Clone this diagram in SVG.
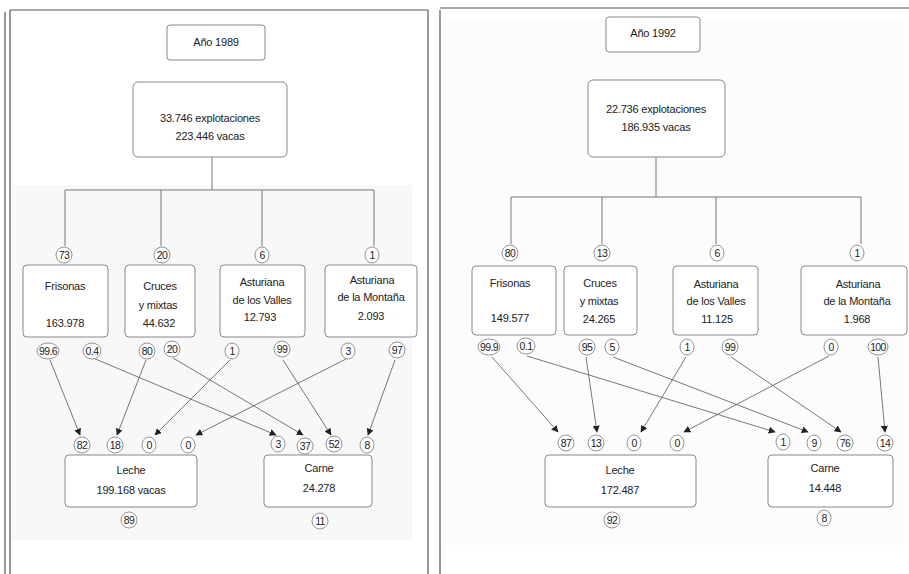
<svg xmlns="http://www.w3.org/2000/svg" width="909" height="574" viewBox="0 0 909 574">
<style>
text{font-family:"Liberation Sans",Arial,sans-serif;font-size:11px;fill:#222;text-anchor:middle;letter-spacing:-0.2px}
.c+text{font-size:10.5px;letter-spacing:-0.6px}
.box{fill:#fff;stroke:#888;stroke-width:1}
.ln{stroke:#777;stroke-width:1;fill:none}
.c{fill:#fff;stroke:#888;stroke-width:0.9}
.frame{stroke:#555;stroke-width:1.2;fill:none}
.arr{stroke:#555;stroke-width:0.8;fill:none;marker-end:url(#ah)}
</style>
<defs>
<marker id="ah" viewBox="0 0 10 10" refX="9" refY="5" markerWidth="7" markerHeight="7" orient="auto" markerUnits="userSpaceOnUse">
<path d="M0,0 L10,5 L0,10 z" fill="#222"/>
</marker>
</defs>
<rect width="909" height="574" fill="#fff"/>
<rect x="12" y="185" width="400" height="355" fill="#f8f8f8"/>
<rect x="445" y="20" width="460" height="525" fill="#fcfcfc"/>
<g id="frames">
<path class="frame" d="M5,12 V574 M10,10 V574 M10,10 H428 M428,10 V574"/>
<path class="frame" d="M440,10 V574 M440,8 H909"/>
</g>
<g id="connectors">
<path class="ln" d="M212,157 V190 M65,190 H374 M65,190 V246 M161,190 V246 M262,190 V246 M374,190 V246"/>
<path class="ln" d="M656,157 V197 M511,197 H861 M511,197 V244 M602,197 V244 M716,197 V244 M861,197 V244"/>
<path class="arr" d="M50,360 L80,435"/>
<path class="arr" d="M93,358 L276,435"/>
<path class="arr" d="M146,360 L117,435"/>
<path class="arr" d="M173,358 L303,435"/>
<path class="arr" d="M230,360 L155,435"/>
<path class="arr" d="M283,360 L331,435"/>
<path class="arr" d="M346,359 L196,435"/>
<path class="arr" d="M395,360 L368,435"/>
<path class="arr" d="M492,357 L558,432"/>
<path class="arr" d="M527,356 L775,432"/>
<path class="arr" d="M586,357 L597,432"/>
<path class="arr" d="M613,357 L808,432"/>
<path class="arr" d="M686,357 L641,432"/>
<path class="arr" d="M731,357 L841,432"/>
<path class="arr" d="M829,356 L684,432"/>
<path class="arr" d="M878,357 L885,432"/>
</g>
<g id="year1989"><rect class="box" x="167" y="25" width="98" height="35" rx="3"/><text x="216" y="46">Año 1989</text></g>
<g id="total1989"><rect class="box" x="133" y="82" width="154" height="75" rx="5"/><text x="210" y="122">33.746 explotaciones</text><text x="210" y="140">223.446 vacas</text></g>
<g id="fris89"><rect class="box" x="23" y="265" width="85" height="72" rx="4"/><text x="65" y="290">Frisonas</text><text x="65" y="327">163.978</text></g>
<g id="cruc89"><rect class="box" x="125" y="265" width="70" height="72" rx="4"/><text x="160" y="290">Cruces</text><text x="158" y="309">y mixtas</text><text x="159" y="327">44.632</text></g>
<g id="vall89"><rect class="box" x="220" y="265" width="85" height="72" rx="4"/><text x="262" y="286">Asturiana</text><text x="262" y="304">de los Valles</text><text x="260" y="321">12.793</text></g>
<g id="mont89"><rect class="box" x="325" y="265" width="92" height="72" rx="4"/><text x="372" y="284">Asturiana</text><text x="371" y="301">de la Montaña</text><text x="371" y="320">2.093</text></g>
<g id="leche89"><rect class="box" x="65" y="455" width="132" height="52" rx="4"/><text x="131" y="474">Leche</text><text x="131" y="494">199.168 vacas</text></g>
<g id="carne89"><rect class="box" x="264" y="455" width="108" height="52" rx="4"/><text x="319" y="472">Carne</text><text x="319" y="492">24.278</text></g>
<g id="circles89">
<ellipse class="c" cx="64" cy="255" rx="8" ry="8"/><text x="64" y="259">73</text>
<ellipse class="c" cx="162" cy="255" rx="8" ry="8"/><text x="162" y="259">20</text>
<ellipse class="c" cx="262" cy="255" rx="7" ry="8"/><text x="262" y="259">6</text>
<ellipse class="c" cx="372" cy="255" rx="7" ry="8"/><text x="372" y="259">1</text>
<ellipse class="c" cx="48" cy="351" rx="11" ry="8"/><text x="48" y="355">99.6</text>
<ellipse class="c" cx="92" cy="351" rx="9" ry="8"/><text x="92" y="355">0.4</text>
<ellipse class="c" cx="147" cy="351" rx="8" ry="8"/><text x="147" y="355">80</text>
<ellipse class="c" cx="172" cy="349" rx="8" ry="8"/><text x="172" y="353">20</text>
<ellipse class="c" cx="232" cy="351" rx="7" ry="8"/><text x="232" y="355">1</text>
<ellipse class="c" cx="282" cy="349" rx="8" ry="8"/><text x="282" y="353">99</text>
<ellipse class="c" cx="348" cy="351" rx="7" ry="8"/><text x="348" y="355">3</text>
<ellipse class="c" cx="397" cy="350" rx="8" ry="8"/><text x="397" y="354">97</text>
<ellipse class="c" cx="82" cy="445" rx="8" ry="8"/><text x="82" y="449">82</text>
<ellipse class="c" cx="115" cy="445" rx="8" ry="8"/><text x="115" y="449">18</text>
<ellipse class="c" cx="149" cy="445" rx="7" ry="8"/><text x="149" y="449">0</text>
<ellipse class="c" cx="188" cy="445" rx="7" ry="8"/><text x="188" y="449">0</text>
<ellipse class="c" cx="278" cy="444" rx="7" ry="8"/><text x="278" y="448">3</text>
<ellipse class="c" cx="305" cy="446" rx="8" ry="8"/><text x="305" y="450">37</text>
<ellipse class="c" cx="334" cy="444" rx="8" ry="8"/><text x="334" y="448">52</text>
<ellipse class="c" cx="367" cy="445" rx="7" ry="8"/><text x="367" y="449">8</text>
<ellipse class="c" cx="129" cy="520" rx="8" ry="8"/><text x="129" y="524">89</text>
<ellipse class="c" cx="320" cy="521" rx="8" ry="8"/><text x="320" y="525">11</text>
</g>
<g id="year1992"><rect class="box" x="606" y="17" width="94" height="35" rx="3"/><text x="653" y="37">Año 1992</text></g>
<g id="total1992"><rect class="box" x="588" y="80" width="137" height="77" rx="5"/><text x="656" y="113">22.736 explotaciones</text><text x="656" y="131">186.935 vacas</text></g>
<g id="fris92"><rect class="box" x="472" y="266" width="84" height="69" rx="4"/><text x="510" y="287">Frisonas</text><text x="510" y="322">149.577</text></g>
<g id="cruc92"><rect class="box" x="564" y="266" width="73" height="69" rx="4"/><text x="600" y="287">Cruces</text><text x="599" y="305">y mixtas</text><text x="599" y="323">24.265</text></g>
<g id="vall92"><rect class="box" x="673" y="266" width="85" height="69" rx="4"/><text x="716" y="288">Asturiana</text><text x="716" y="305">de los Valles</text><text x="717" y="323">11.125</text></g>
<g id="mont92"><rect class="box" x="801" y="266" width="106" height="69" rx="4"/><text x="858" y="288">Asturiana</text><text x="857" y="305">de la Montaña</text><text x="857" y="323">1.968</text></g>
<g id="leche92"><rect class="box" x="545" y="455" width="151" height="52" rx="4"/><text x="620" y="474">Leche</text><text x="620" y="494">172.487</text></g>
<g id="carne92"><rect class="box" x="768" y="455" width="125" height="52" rx="4"/><text x="825" y="472">Carne</text><text x="825" y="492">14.448</text></g>
<g id="circles92">
<ellipse class="c" cx="510" cy="253" rx="8" ry="8"/><text x="510" y="257">80</text>
<ellipse class="c" cx="602" cy="253" rx="8" ry="8"/><text x="602" y="257">13</text>
<ellipse class="c" cx="717" cy="253" rx="7" ry="8"/><text x="717" y="257">6</text>
<ellipse class="c" cx="857" cy="253" rx="7" ry="8"/><text x="857" y="257">1</text>
<ellipse class="c" cx="489" cy="347" rx="11" ry="8"/><text x="489" y="351">99.9</text>
<ellipse class="c" cx="526" cy="346" rx="9" ry="8"/><text x="526" y="350">0.1</text>
<ellipse class="c" cx="587" cy="347" rx="8" ry="8"/><text x="587" y="351">95</text>
<ellipse class="c" cx="612" cy="347" rx="7" ry="8"/><text x="612" y="351">5</text>
<ellipse class="c" cx="687" cy="347" rx="7" ry="8"/><text x="687" y="351">1</text>
<ellipse class="c" cx="730" cy="347" rx="8" ry="8"/><text x="730" y="351">99</text>
<ellipse class="c" cx="831" cy="347" rx="7" ry="8"/><text x="831" y="351">0</text>
<ellipse class="c" cx="878" cy="347" rx="10" ry="8"/><text x="878" y="351">100</text>
<ellipse class="c" cx="566" cy="443" rx="8" ry="8"/><text x="566" y="447">87</text>
<ellipse class="c" cx="596" cy="443" rx="8" ry="8"/><text x="596" y="447">13</text>
<ellipse class="c" cx="634" cy="443" rx="7" ry="8"/><text x="634" y="447">0</text>
<ellipse class="c" cx="677" cy="443" rx="7" ry="8"/><text x="677" y="447">0</text>
<ellipse class="c" cx="783" cy="442" rx="7" ry="8"/><text x="783" y="446">1</text>
<ellipse class="c" cx="814" cy="443" rx="7" ry="8"/><text x="814" y="447">9</text>
<ellipse class="c" cx="845" cy="443" rx="8" ry="8"/><text x="845" y="447">76</text>
<ellipse class="c" cx="885" cy="443" rx="8" ry="8"/><text x="885" y="447">14</text>
<ellipse class="c" cx="612" cy="520" rx="8" ry="8"/><text x="612" y="524">92</text>
<ellipse class="c" cx="824" cy="518" rx="7" ry="8"/><text x="824" y="522">8</text>
</g>
</svg>
